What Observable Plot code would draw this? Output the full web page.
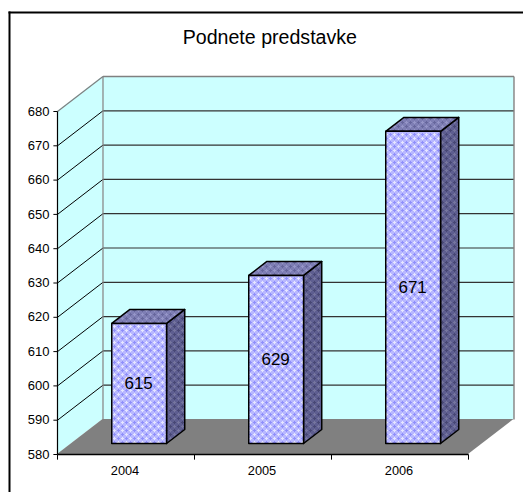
<!DOCTYPE html>
<html><head><meta charset="utf-8">
<script src="https://cdn.jsdelivr.net/npm/d3@7"></script>
<script src="https://cdn.jsdelivr.net/npm/@observablehq/plot@0.6"></script>
<style>html,body{margin:0;padding:0;background:#fff}svg{display:block}</style>
</head><body><div id="chart"></div>
<script>
const chartTitle = "Podnete predstavke";
const years = [2004, 2005, 2006];
const values = [615, 629, 671];
const yTicks = [580,590,600,610,620,630,640,650,660,670,680];
const xEdges = [0,1,2,3];
const yMin = 580, yMax = 680;
const depthX = 0.332, depthY = 10.2;
const barHalf = 0.2, barNear = 0.3, barFar = 0.7;
const font = "Liberation Sans, Arial, sans-serif";

const px = (x,d) => x + d*depthX;
const py = (y,d) => y + d*depthY;

const cats = years.map((year,i)=>({year, value:values[i], c:i+0.5}));

const defs = () => {
  const plus = (cx,cy,c) => `<rect x="${cx-1}" y="${cy}" width="3" height="1" fill="${c}"/><rect x="${cx}" y="${cy-1}" width="1" height="3" fill="${c}"/>`;
  const mk = (id,bg,fg,light) => `<pattern id="${id}" width="8" height="8" patternUnits="userSpaceOnUse">
    <rect width="8" height="8" fill="${bg}"/>
    ${plus(2,2,fg)}${plus(6,6,fg)}${plus(6,2,light)}${plus(2,6,light)}</pattern>`;
  const g = d3.create("svg:defs").html(
    mk("pFront","#b8b8ff","#8e8efb","#e6e6ff")+
    mk("pSide","#5e5e90","#474774","#76769f")+
    mk("pTop","#7e7eb4","#66669c","#9696c8"));
  return g.node();
};

const wallBack = [{x:px(0,1),y1:py(yMin,1),y2:py(yMax,1)},{x:px(3,1),y1:py(yMin,1),y2:py(yMax,1)}];
const wallSide = [0,1].map(d=>({x:px(0,d),y1:py(yMin,d),y2:py(yMax,d)}));
const floor = [0,1].map(d=>({y:py(yMin,d),x1:px(0,d),x2:px(3,d)}));

const barMarks = cats.flatMap(b=>{
  const l=b.c-barHalf, r=b.c+barHalf;
  const front=[{x:px(l,barNear),y1:py(yMin,barNear),y2:py(b.value,barNear)},
               {x:px(r,barNear),y1:py(yMin,barNear),y2:py(b.value,barNear)}];
  const side=[barNear,barFar].map(d=>({x:px(r,d),y1:py(yMin,d),y2:py(b.value,d)}));
  const top=[barNear,barFar].map(d=>({y:py(b.value,d),x1:px(l,d),x2:px(r,d)}));
  const edge={stroke:"#000",strokeWidth:1.5,strokeLinejoin:"round"};
  return [
    Plot.areaY(side,{x:"x",y1:"y1",y2:"y2",fill:"url(#pSide)",...edge}),
    Plot.areaX(top,{y:"y",x1:"x1",x2:"x2",fill:"url(#pTop)",...edge}),
    Plot.areaY(front,{x:"x",y1:"y1",y2:"y2",fill:"url(#pFront)",...edge})
  ];
});

const plot = Plot.plot({
  width:523, height:492,
  marginLeft:9, marginTop:12, marginRight:0, marginBottom:0,
  style:{fontFamily:font, background:"#fff"},
  x:{type:"linear",domain:[0,3],range:[57,468],axis:null},
  y:{type:"linear",domain:[yMin,yMax],range:[454,111],axis:null},
  marks:[
    defs,
    Plot.frame({anchor:"left",stroke:"#000",strokeWidth:2}),
    Plot.frame({anchor:"top",stroke:"#000",strokeWidth:2}),
    Plot.areaY(wallSide,{x:"x",y1:"y1",y2:"y2",fill:"#ccffff"}),
    Plot.areaY(wallBack,{x:"x",y1:"y1",y2:"y2",fill:"#ccffff"}),
    Plot.link(yTicks.slice(1,-1),{x1:()=>px(0,0),y1:d=>d,x2:()=>px(0,1),y2:d=>py(d,1),stroke:"#000",strokeWidth:1}),
    Plot.link(yTicks.slice(1,-1),{x1:()=>px(0,1),y1:d=>py(d,1),x2:()=>px(3,1),y2:d=>py(d,1),stroke:"#333",strokeWidth:1.2}),
    Plot.link([0],{x1:()=>px(0,0),y1:()=>yMax,x2:()=>px(0,1),y2:()=>py(yMax,1),stroke:"#808080",strokeWidth:1.2}),
    Plot.link([0],{x1:()=>px(0,1),y1:()=>py(yMax,1),x2:()=>px(3,1),y2:()=>py(yMax,1),stroke:"#808080",strokeWidth:1.4}),
    Plot.link([0],{x1:()=>px(0,1),y1:()=>py(yMin,1),x2:()=>px(0,1),y2:()=>py(yMax,1),stroke:"#808080",strokeWidth:1.2}),
    Plot.link([0],{x1:()=>px(3,1),y1:()=>py(yMin,1),x2:()=>px(3,1),y2:()=>py(yMax,1),stroke:"#808080",strokeWidth:1.4}),
    Plot.areaX(floor,{y:"y",x1:"x1",x2:"x2",fill:"#808080"}),
    ...barMarks,
    Plot.link([0],{x1:()=>0,x2:()=>0,y1:()=>yMin,y2:()=>yMax,stroke:"#000",strokeWidth:1.2}),
    Plot.link([0],{x1:()=>0,x2:()=>3,y1:()=>yMin,y2:()=>yMin,stroke:"#000",strokeWidth:1.4}),
    Plot.link(yTicks,{x1:()=>-0.03,x2:()=>0,y1:d=>d,y2:d=>d,stroke:"#000",strokeWidth:1}),
    Plot.link(xEdges,{x1:d=>d,x2:d=>d,y1:()=>yMin,y2:()=>yMin-1.5,stroke:"#000",strokeWidth:1}),
    Plot.text(yTicks,{x:()=>0,y:d=>d,text:d=>String(d),textAnchor:"end",dx:-8,fontSize:13,fill:"#000"}),
    Plot.text(cats,{x:"c",y:()=>yMin,text:d=>String(d.year),dx:-1,dy:16,fontSize:12.8,fill:"#000"}),
    Plot.text(cats,{x:d=>px(d.c,barNear),y:d=>(py(yMin,barNear)+py(d.value,barNear))/2,text:d=>String(d.value),dx:-1,fontSize:17,fill:"#000"}),
    Plot.text([chartTitle],{x:()=>1.55,y:()=>yMax+21.6,text:d=>d,fontSize:19.6,fill:"#000"})
  ]
});
document.getElementById("chart").append(plot);
</script></body></html>
